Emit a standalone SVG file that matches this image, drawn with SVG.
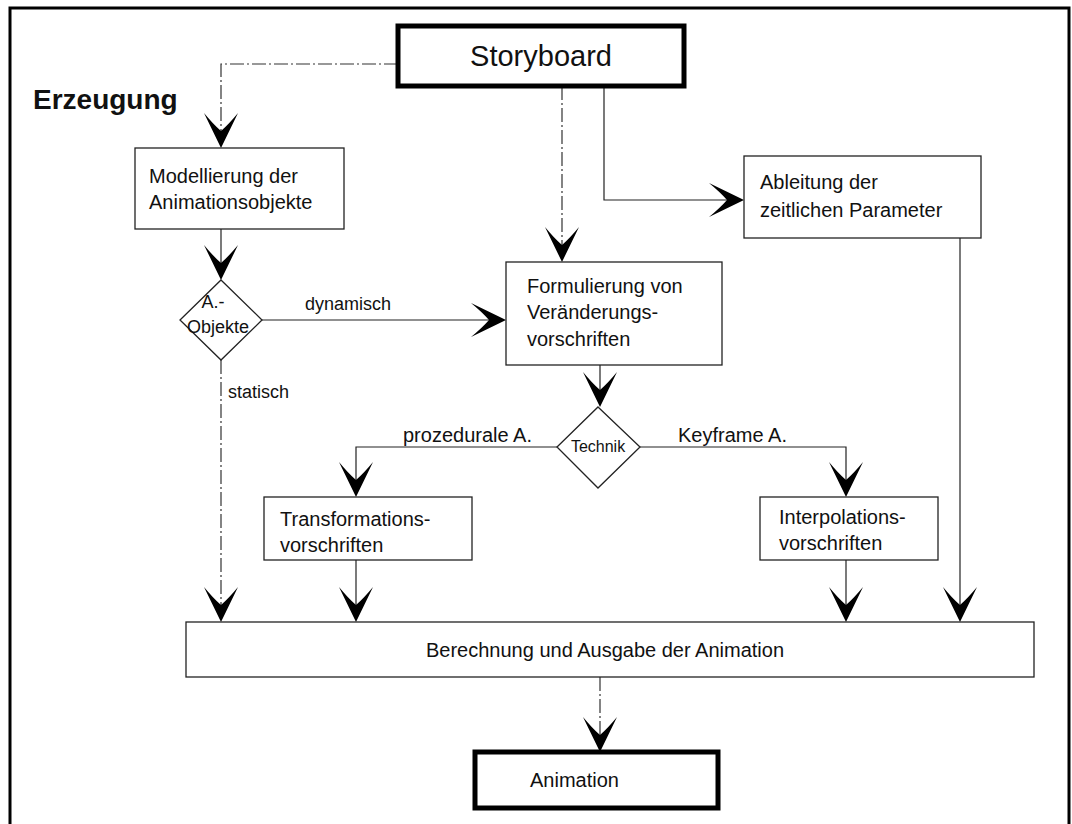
<svg xmlns="http://www.w3.org/2000/svg" width="1072" height="824" viewBox="0 0 1072 824">
<style>
text{font-family:"Liberation Sans",Arial,Helvetica,sans-serif;fill:#111}
.box{fill:#fff;stroke:#222;stroke-width:1.3}
.thick{fill:#fff;stroke:#000;stroke-width:5}
.t{font-size:20px}
.lbl{font-size:18px}
.ln{fill:none;stroke:#222;stroke-width:1.2}
.dash{fill:none;stroke:#333;stroke-width:1.2;stroke-dasharray:14 3 2 3}
.ah{fill:#000}
</style>
<defs>
<path id="ah" d="M0,0 L-17,-35 Q-8,-24 0,-17 Q8,-24 17,-35 Z"/>
</defs>
<rect x="10" y="8" width="1059" height="830" fill="#fff" stroke="#000" stroke-width="3"/>
<text x="33" y="109" style="font-size:28px;font-weight:bold">Erzeugung</text>

<g id="connectors">
<path class="dash" d="M398,64 H221 V140"/>
<path class="ln" d="M221,229 V272"/>
<path class="ln" d="M262,320 H498"/>
<path class="dash" d="M221,360 V614"/>
<path class="dash" d="M562,86 V254"/>
<path class="ln" d="M604,86 V200 H736"/>
<path class="ln" d="M960,238 V614"/>
<path class="ln" d="M600,365 V399"/>
<path class="ln" d="M557,447 H356 V489"/>
<path class="ln" d="M640,447 H846 V489"/>
<path class="ln" d="M356,560 V614"/>
<path class="ln" d="M846,560 V614"/>
<path class="dash" d="M600,677 V744"/>
<g class="ah">
<use href="#ah" transform="translate(221,148)"/>
<use href="#ah" transform="translate(221,280)"/>
<use href="#ah" transform="translate(506,320) rotate(-90)"/>
<use href="#ah" transform="translate(221,622)"/>
<use href="#ah" transform="translate(562,262)"/>
<use href="#ah" transform="translate(744,200) rotate(-90)"/>
<use href="#ah" transform="translate(960,622)"/>
<use href="#ah" transform="translate(600,407)"/>
<use href="#ah" transform="translate(356,497)"/>
<use href="#ah" transform="translate(846,497)"/>
<use href="#ah" transform="translate(356,622)"/>
<use href="#ah" transform="translate(846,622)"/>
<use href="#ah" transform="translate(600,752)"/>
</g>
<text x="305" y="310" class="lbl">dynamisch</text>
<text x="228" y="398" class="lbl">statisch</text>
<text x="403" y="442" class="t">prozedurale A.</text>
<text x="678" y="442" class="t">Keyframe A.</text>
</g>

<g id="storyboard">
<rect class="thick" x="398" y="26" width="286" height="60"/>
<text x="541" y="66" text-anchor="middle" style="font-size:29px">Storyboard</text>
</g>
<g id="modellierung">
<rect class="box" x="135" y="148" width="209" height="81"/>
<text x="149" y="183" class="t">Modellierung der</text>
<text x="149" y="209" class="t">Animationsobjekte</text>
</g>
<g id="aobjekte">
<polygon class="box" points="221,280 262,320 221,360 180,320"/>
<text x="213" y="308" text-anchor="middle" class="lbl">A.-</text>
<text x="218" y="333" text-anchor="middle" class="lbl">Objekte</text>
</g>
<g id="ableitung">
<rect class="box" x="744" y="156" width="237" height="82"/>
<text x="760" y="189" class="t">Ableitung der</text>
<text x="760" y="217" class="t">zeitlichen Parameter</text>
</g>
<g id="formulierung">
<rect class="box" x="506" y="262" width="216" height="103"/>
<text x="527" y="293" class="t">Formulierung von</text>
<text x="527" y="319" class="t">Veränderungs-</text>
<text x="527" y="346" class="t">vorschriften</text>
</g>
<g id="technik">
<polygon class="box" points="598,407 640,447 598,488 557,447"/>
<text x="598" y="452" text-anchor="middle" style="font-size:16px">Technik</text>
</g>
<g id="transformations">
<rect class="box" x="264" y="497" width="208" height="63"/>
<text x="280" y="526" class="t">Transformations-</text>
<text x="280" y="552" class="t">vorschriften</text>
</g>
<g id="interpolations">
<rect class="box" x="760" y="497" width="178" height="63"/>
<text x="779" y="524" class="t">Interpolations-</text>
<text x="779" y="550" class="t">vorschriften</text>
</g>
<g id="berechnung">
<rect class="box" x="186" y="622" width="848" height="55"/>
<text x="605" y="657" text-anchor="middle" class="t">Berechnung und Ausgabe der Animation</text>
</g>
<g id="animation">
<rect class="thick" x="475" y="752" width="243" height="56"/>
<text x="530" y="787" class="t">Animation</text>
</g>
</svg>
